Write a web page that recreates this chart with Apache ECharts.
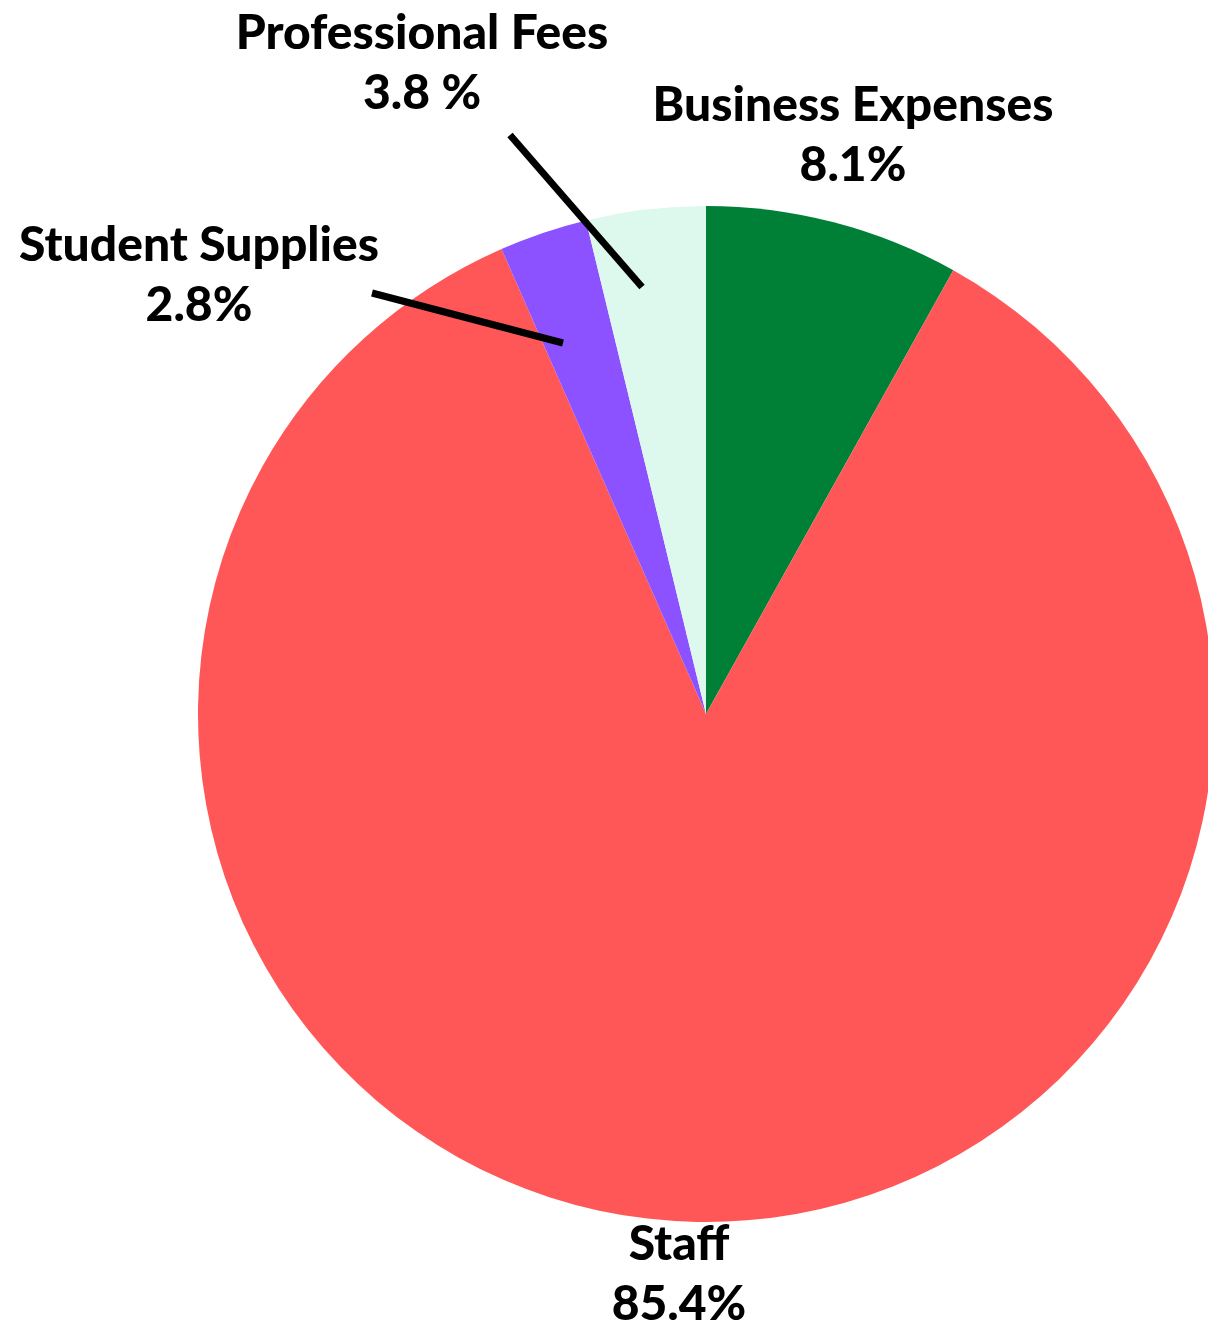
<!DOCTYPE html>
<html lang="en">
<head>
	<meta charset="UTF-8">
	<title>Expenses pie</title>
	<style>
		html, body { margin: 0; padding: 0; background: #fff; }
		#main { width: 1208px; height: 1326px; }
	</style>
</head>
<body>
	<div id="main"></div>

	<script src="https://cdn.jsdelivr.net/npm/echarts@6/dist/echarts.min.js"></script>
	<script>
		// data
		var categories = ['Business Expenses', 'Staff', 'Student Supplies', 'Professional Fees'];
		var shares = [8.1, 85.4, 2.8, 3.8];
		var shareText = ['8.1%', '85.4%', '2.8%', '3.8 %'];
		var colors = ['#007f37', '#ff5757', '#8c52ff', '#ddf8ec'];

		// where each label sits (centre of the text block) and its leader line, if any
		var labelPos = [
			{ x: 853, y: 136, line: null },
			{ x: 679, y: 1275, line: null },
			{ x: 199, y: 276, line: [[372, 293], [563, 343]] },
			{ x: 422, y: 64, line: [[510, 135], [642, 287]] }
		];

		var sliceData = [], labelData = [];
		for (var i = 0; i < categories.length; i++) {
			sliceData.push({
				name: categories[i],
				value: shares[i],
				itemStyle: { color: colors[i] }
			});
			labelData.push({
				name: categories[i],
				value: shares[i],
				labelLine: { show: !!labelPos[i].line }
			});
		}

		var pieCenter = [706, 714];
		var pieRadius = 508;

		var myChart = echarts.init(document.getElementById('main'));
		var option = {
			animation: false,
			series: [{
				// the slices
				type: 'pie',
				z: 1,
				center: pieCenter,
				radius: pieRadius,
				startAngle: 90,
				data: sliceData,
				itemStyle: { borderWidth: 0 },
				label: { show: false },
				labelLine: { show: false }
			}, {
				// same data again, transparent, only for labels + leader lines on top
				type: 'pie',
				z: 5,
				silent: true,
				center: pieCenter,
				radius: pieRadius,
				startAngle: 90,
				data: labelData,
				itemStyle: { color: 'rgba(0,0,0,0)', borderWidth: 0 },
				label: {
					show: true,
					position: 'outside',
					overflow: 'none',
					formatter: function (p) {
						return p.name + '\n' + shareText[p.dataIndex];
					},
					fontFamily: 'Lato',
					fontWeight: 900,
					fontSize: 48,
					lineHeight: 60,
					color: '#000',
					align: 'center'
				},
				labelLine: {
					show: true,
					lineStyle: { color: '#000', width: 7, cap: 'butt' }
				},
				labelLayout: function (params) {
					var lp = labelPos[params.dataIndex];
					var res = { x: lp.x, y: lp.y, align: 'center', verticalAlign: 'middle' };
					if (lp.line) res.labelLinePoints = lp.line;
					return res;
				}
			}]
		};
		myChart.setOption(option);
	</script>
</body>
</html>
